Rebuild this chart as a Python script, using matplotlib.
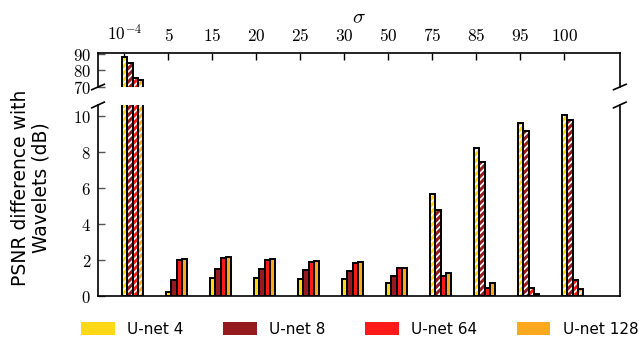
import numpy as np
import matplotlib
matplotlib.use('Agg')
import matplotlib.pyplot as plt
from matplotlib.patches import Patch

plt.rcParams['mathtext.fontset'] = 'cm'
plt.rcParams['hatch.linewidth'] = 1.2
plt.rcParams['hatch.color'] = 'white'

# sigma values along the top axis
sigmas = [r'$10^{-4}$', '$5$', '$15$', '$20$', '$25$', '$30$', '$50$', '$75$', '$85$', '$95$', '$100$']

# PSNR difference (dB) per network
unet4 = [88.0, 0.2, 0.98, 1.0, 0.96, 0.93, 0.70, 5.67, 8.24, 9.59, 10.07]
unet8 = [84.4, 0.9, 1.52, 1.48, 1.43, 1.37, 1.10, 4.80, 7.41, 9.13, 9.74]
unet64 = [75.3, 2.0, 2.11, 2.0, 1.91, 1.83, 1.53, 1.09, 0.44, 0.46, 0.91]
unet128 = [74.2, 2.03, 2.15, 2.05, 1.94, 1.87, 1.53, 1.26, 0.70, 0.13, 0.41]

# hatched bars (wavelets side)
hatch4 = [1, 0, 0, 0, 0, 0, 0, 1, 1, 1, 1]
hatch8 = [1, 0, 0, 0, 0, 0, 0, 1, 1, 1, 1]
hatch64 = [1, 0, 0, 0, 0, 0, 0, 0, 0, 1, 1]
hatch128 = [1, 0, 0, 0, 0, 0, 0, 0, 0, 1, 1]

names = ['U-net 4', 'U-net 8', 'U-net 64', 'U-net 128']
colores = ['#fdd817', '#951b1e', '#ff1a1a', '#fda91f']
series = [unet4, unet8, unet64, unet128]
hatches = [hatch4, hatch8, hatch64, hatch128]

fig = plt.figure(figsize=(6.39, 3.44), dpi=100)
ax_top = fig.add_axes([0.1534, 0.7471, 0.8166, 0.0988])
ax_bot = fig.add_axes([0.1534, 0.1395, 0.8166, 0.5553])

x = np.arange(len(sigmas))
w = 0.12

for ax in (ax_top, ax_bot):
    for k in range(4):
        pos = x + 0.005 + w * k
        vals = np.array(series[k])
        hm = np.array(hatches[k], dtype=bool)
        # solid bars
        ax.bar(pos[~hm], vals[~hm], w, color=colores[k], edgecolor='black', linewidth=1.4, zorder=3)
        # hatched bars: white hatch first, then black outline on top
        hb = ax.bar(pos[hm], vals[hm], w, facecolor=colores[k], linewidth=0,
                    hatch='/////', zorder=3)
        for p in hb:
            try:
                p.set_hatchcolor('white')
            except AttributeError:
                p.set_edgecolor('white')
        ax.bar(pos[hm], vals[hm], w, fill=False, edgecolor='black', linewidth=1.4, zorder=4)
    ax.set_xlim(-0.60, 11.26)
    for s in ax.spines.values():
        s.set_linewidth(1.2)

ax_top.set_ylim(70, 90.6)
ax_bot.set_ylim(0, 10.6)

ax_top.spines['bottom'].set_visible(False)
ax_bot.spines['top'].set_visible(False)

ax_top.xaxis.tick_top()
ax_top.xaxis.set_label_position('top')
ax_top.set_xticks(x)
ax_top.set_xticklabels(sigmas, fontsize=12.5)
ax_top.tick_params(axis='x', direction='in', length=5, width=1.0, pad=6)
ax_top.set_xlabel(r'$\sigma$', fontsize=15, labelpad=1)
ax_top.set_yticks([70, 80, 90])
ax_top.set_yticklabels(['$70$', '$80$', '$90$'], fontsize=12)
ax_top.tick_params(axis='y', direction='in', length=5, width=1.0, color='#555555', pad=5)

ax_bot.set_xticks([])
ax_bot.set_yticks([0, 2, 4, 6, 8, 10])
ax_bot.set_yticklabels(['$0$', '$2$', '$4$', '$6$', '$8$', '$10$'], fontsize=12)
ax_bot.tick_params(axis='y', direction='in', length=5, width=1.0, color='#555555', pad=5)

# break marks on both spines
d = 0.012
kw = dict(color='black', clip_on=False, linewidth=1.2)
ax_top.plot((-d, +d), (-0.08, 0.08), transform=ax_top.transAxes, **kw)
ax_top.plot((1 - d, 1 + d), (-0.08, 0.08), transform=ax_top.transAxes, **kw)
ax_bot.plot((-d, +d), (1 - 0.015, 1 + 0.015), transform=ax_bot.transAxes, **kw)
ax_bot.plot((1 - d, 1 + d), (1 - 0.015, 1 + 0.015), transform=ax_bot.transAxes, **kw)

fig.text(0.048, 0.455, 'PSNR difference with\nWavelets (dB)', rotation=90,
         ha='center', va='center', fontsize=13.5, linespacing=1.1)

handles = [Patch(facecolor=c, edgecolor='none') for c in colores]
fig.legend(handles, names, loc='center', bbox_to_anchor=(0.563, 0.043), ncol=4,
           frameon=False, fontsize=11, handlelength=2.2, handleheight=0.85,
           handletextpad=0.8, columnspacing=2.6)

fig.savefig('out.png', dpi=100)
